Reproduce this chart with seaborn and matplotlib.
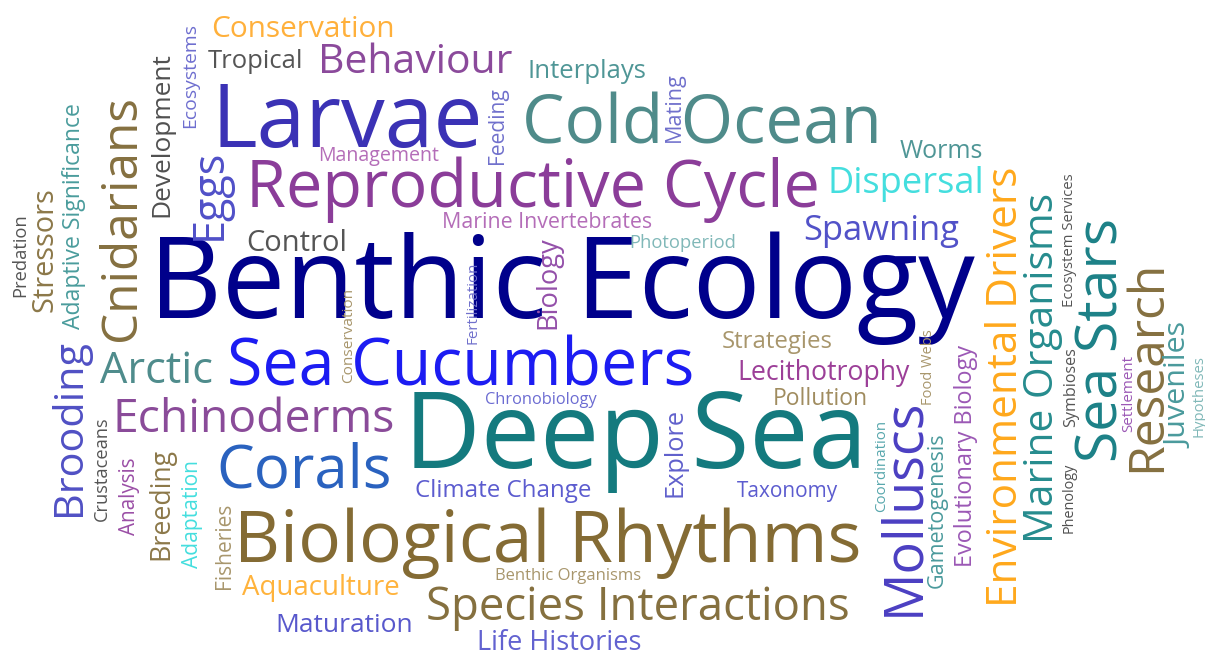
import matplotlib
matplotlib.use("Agg")
import matplotlib.pyplot as plt
import seaborn as sns

#----------------------------------------------------------
# Data : the words of the cloud
#----------------------------------------------------------
words_horizontal = [
    "Benthic Ecology", "Deep Sea", "Larvae", "Reproductive Cycle", "Cold Ocean",
    "Sea Cucumbers", "Biological Rhythms", "Species Interactions", "Echinoderms",
    "Corals", "Arctic", "Aquaculture", "Maturation", "Life Histories",
    "Benthic Organisms", "Climate Change", "Chronobiology", "Taxonomy",
    "Strategies", "Lecithotrophy", "Pollution", "Photoperiod",
    "Marine Invertebrates", "Management", "Interplays", "Behaviour", "Tropical",
    "Conservation", "Control", "Spawning", "Dispersal", "Worms",
]

words_vertical = [
    "Cnidarians", "Brooding", "Stressors", "Adaptive Significance", "Predation",
    "Development", "Ecosystems", "Eggs", "Feeding", "Mating", "Biology",
    "Fertilization", "Conservation", "Crustaceans", "Analysis", "Breeding",
    "Adaptation", "Fisheries", "Explore", "Molluscs", "Coordination",
    "Gametogenesis", "Evolutionary Biology", "Food Webs", "Environmental Drivers",
    "Marine Organisms", "Phenology", "Symbioses", "Ecosystem Services",
    "Sea Stars", "Research", "Settlement", "Juveniles", "Hypotheses",
]

#----------------------------------------------------------
# Layout : (centre along text, baseline, length in px, colour)
#----------------------------------------------------------
layout_horizontal = [
    (562, 318, 825, "#00008b"),
    (636, 468, 463, "#147a7e"),
    (347, 147, 271, "#3b32b5"),
    (533, 207, 573, "#8b3d99"),
    (702, 143, 359, "#4f8b8a"),
    (461, 385, 468, "#1c1cf2"),
    (548, 562, 627, "#846b34"),
    (638, 620, 423, "#85703f"),
    (254, 432, 282, "#8a4b99"),
    (304, 488, 175, "#2a62bf"),
    (156, 383, 113, "#4f8c8c"),
    (321, 595, 158, "#ffb33c"),
    (344, 632, 138, "#5858cc"),
    (559, 650, 165, "#6262d0"),
    (568, 580, 147, "#a8966c"),
    (503, 497, 177, "#5c5ccf"),
    (541, 404, 112, "#6c6cd2"),
    (787, 497, 101, "#5c5ccf"),
    (777, 348, 111, "#a8966c"),
    (824, 380, 172, "#9c3f98"),
    (820, 405, 95, "#a08c5f"),
    (683, 248, 107, "#80b8b8"),
    (547, 228, 209, "#b46db8"),
    (379, 161, 122, "#b46db8"),
    (587, 78, 119, "#4f9696"),
    (415, 73, 194, "#8b4a9b"),
    (255, 68, 95, "#555555"),
    (303, 37, 183, "#ffb03b"),
    (297, 251, 100, "#555555"),
    (881, 240, 156, "#5252c8"),
    (906, 193, 157, "#44dede"),
    (941, 158, 83, "#4f9696"),
]

# (baseline x, centre along text, length in px, colour)
layout_vertical = [
    (135, 218, 247, "#857040"),
    (80, 428, 177, "#5050c4"),
    (53, 250, 124, "#8c7849"),
    (80, 216, 227, "#4a9c9c"),
    (25, 255, 84, "#555555"),
    (168, 135, 164, "#505050"),
    (195, 75, 105, "#6e6ecf"),
    (221, 194, 92, "#5050c8"),
    (503, 126, 77, "#7070cc"),
    (680, 107, 70, "#7070cc"),
    (555, 283, 93, "#9450aa"),
    (477, 303, 83, "#7070cc"),
    (352, 335, 95, "#a8966c"),
    (107, 469, 105, "#555555"),
    (135, 496, 78, "#9b4fa6"),
    (168, 504, 112, "#8c7849"),
    (198, 514, 108, "#44dede"),
    (230, 546, 87, "#a8966c"),
    (682, 452, 89, "#6060cc"),
    (918, 507, 219, "#4b3fc2"),
    (885, 466, 92, "#58a7ad"),
    (943, 510, 155, "#4a9a9c"),
    (972, 456, 223, "#9b58b5"),
    (932, 367, 75, "#a8966c"),
    (1017, 387, 439, "#ffa81c"),
    (1053, 368, 350, "#268c8e"),
    (1073, 498, 70, "#505050"),
    (1075, 387, 80, "#555555"),
    (1073, 240, 134, "#555555"),
    (1117, 340, 245, "#1c8187"),
    (1160, 366, 212, "#857040"),
    (1132, 393, 77, "#9b58b5"),
    (1187, 385, 125, "#4a9a9c"),
    (1203, 396, 82, "#80b8b8"),
]

FONT = ["Open Sans", "DejaVu Sans"]


def place_word(ax, renderer, word, x, y, length, color, rotation):
    t = ax.text(x, y, word, fontsize=10, color=color, rotation=rotation,
                rotation_mode="anchor", ha="center", va="baseline",
                family=FONT)
    bb = t.get_window_extent(renderer)
    current = bb.width if rotation == 0 else bb.height
    t.set_fontsize(10 * length / current)
    return t


def main():
    sns.set_theme(style="white")
    plt.rcParams["font.family"] = FONT

    fig = plt.figure(figsize=(12.05, 6.56), dpi=100)
    ax = fig.add_axes([0, 0, 1, 1])
    ax.set_xlim(0, 1205)
    ax.set_ylim(656, 0)
    ax.axis("off")
    renderer = fig.canvas.get_renderer()

    for word, (x, y, length, color) in zip(words_horizontal, layout_horizontal):
        place_word(ax, renderer, word, x, y, length, color, 0)

    for word, (x, y, length, color) in zip(words_vertical, layout_vertical):
        place_word(ax, renderer, word, x, y, length, color, 90)

    fig.savefig("out.png", dpi=100, facecolor="white")


if __name__ == "__main__":
    main()
